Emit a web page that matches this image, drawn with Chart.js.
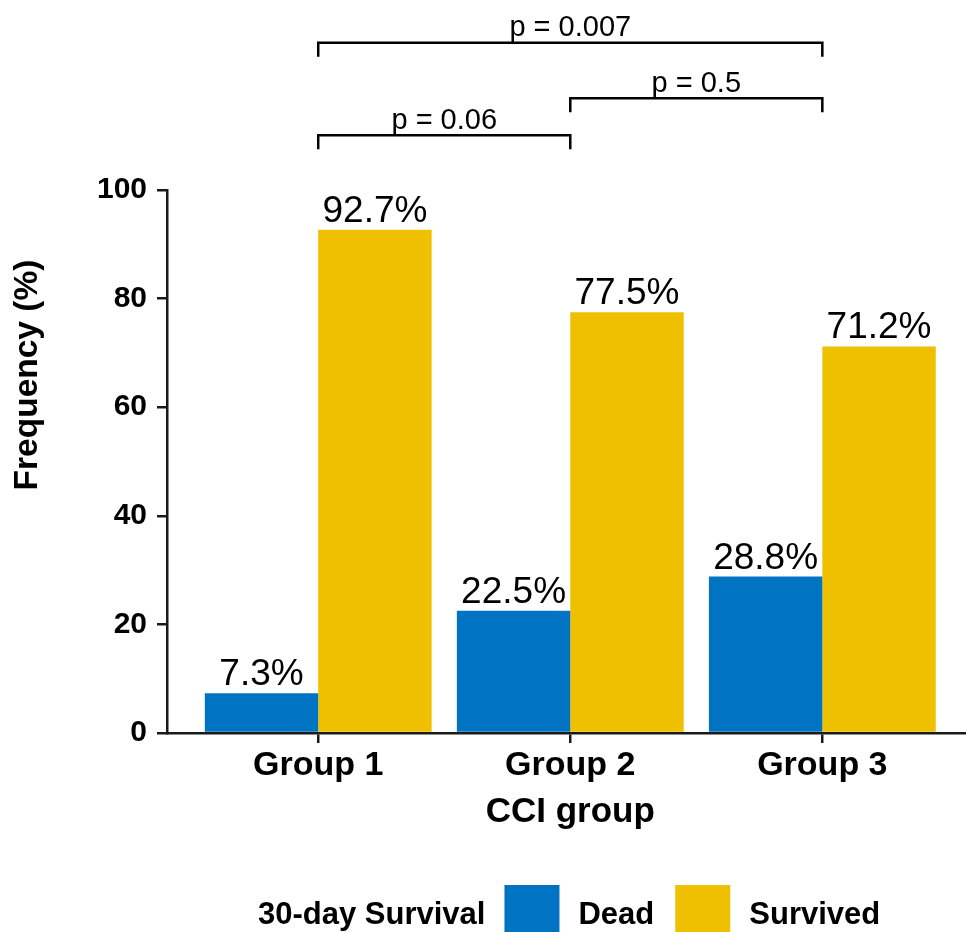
<!DOCTYPE html>
<html>
<head>
<meta charset="utf-8">
<script src="https://cdn.jsdelivr.net/npm/chart.js@4"></script>
<style>
  html, body { margin: 0; padding: 0; background: #ffffff; }
  canvas { display: block; }
</style>
</head>
<body>
<canvas id="chart" width="966" height="932"></canvas>
<script>
// CCI groups and their positions on the x scale
const groups = ['Group 1', 'Group 2', 'Group 3'];
const groupPos = [1, 2, 3];

// 30-day survival frequencies (%)
const seriesNames = ['Dead', 'Survived'];
const dead = [7.3, 22.5, 28.8];
const survived = [92.7, 77.5, 71.2];

// y axis ticks
const yTicks = [0, 20, 40, 60, 80, 100];

// pairwise comparisons and their p values
const pairs = [[1, 2], [2, 3], [1, 3]];
const pLabels = ['p = 0.06', 'p = 0.5', 'p = 0.007'];

const FONT = '"Liberation Sans", Arial, Helvetica, sans-serif';
const BLUE = '#0073C2';
const YELLOW = '#EFC000';
const AXIS = '#1a1a1a';

const overlay = {
  id: 'overlay',
  afterDatasetsDraw(chart) {
    const ctx = chart.ctx;
    const xs = chart.scales.x;
    const ys = chart.scales.y;
    ctx.save();

    // value labels above bars
    ctx.fillStyle = '#000';
    ctx.font = '37px ' + FONT;
    ctx.textAlign = 'center';
    ctx.textBaseline = 'alphabetic';
    chart.data.datasets.forEach((ds, di) => {
      const meta = chart.getDatasetMeta(di);
      meta.data.forEach((el, i) => {
        ctx.fillText(ds.data[i].y + '%', el.x, el.y - 8);
      });
    });

    // significance brackets (levels in data units above the bars)
    const levels = [110.1, 116.9, 127.1];
    const drop = 14;
    ctx.strokeStyle = '#000';
    ctx.lineWidth = 2.5;
    ctx.lineJoin = 'miter';
    ctx.font = '29px ' + FONT;
    pairs.forEach((p, i) => {
      const x1 = xs.getPixelForValue(p[0]);
      const x2 = xs.getPixelForValue(p[1]);
      const y = ys.getPixelForValue(levels[i]);
      ctx.beginPath();
      ctx.moveTo(x1, y + drop);
      ctx.lineTo(x1, y);
      ctx.lineTo(x2, y);
      ctx.lineTo(x2, y + drop);
      ctx.stroke();
      ctx.fillText(pLabels[i], (x1 + x2) / 2, y - 6.5);
    });

    // y axis title
    ctx.save();
    ctx.translate(37, 375);
    ctx.rotate(-Math.PI / 2);
    ctx.font = 'bold 33.5px ' + FONT;
    ctx.textAlign = 'center';
    ctx.textBaseline = 'alphabetic';
    ctx.fillText('Frequency (%)', 0, 0);
    ctx.restore();

    // x axis title
    ctx.font = 'bold 35px ' + FONT;
    ctx.textAlign = 'center';
    ctx.fillText('CCI group', xs.getPixelForValue(2), 822);

    // legend
    ctx.textAlign = 'left';
    ctx.font = 'bold 31px ' + FONT;
    let lx = 258;
    const base = 924;
    ctx.fillText('30-day Survival', lx, base);
    lx += ctx.measureText('30-day Survival').width + 19;
    const colors = [BLUE, YELLOW];
    seriesNames.forEach((name, i) => {
      ctx.fillStyle = colors[i];
      ctx.fillRect(lx, 885, 55, 50);
      lx += 55 + 19;
      ctx.fillStyle = '#000';
      ctx.fillText(name, lx, base);
      lx += ctx.measureText(name).width + 21;
    });

    ctx.restore();
  }
};

new Chart(document.getElementById('chart').getContext('2d'), {
  type: 'bar',
  data: {
    datasets: [
      {
        label: seriesNames[0],
        data: groupPos.map((x, i) => ({ x: x, y: dead[i] })),
        backgroundColor: BLUE,
        borderWidth: 0
      },
      {
        label: seriesNames[1],
        data: groupPos.map((x, i) => ({ x: x, y: survived[i] })),
        backgroundColor: YELLOW,
        borderWidth: 0
      }
    ]
  },
  options: {
    responsive: false,
    animation: false,
    layout: { padding: { top: 190, right: 0, bottom: 0, left: 0 } },
    datasets: { bar: { categoryPercentage: 0.9, barPercentage: 1.0 } },
    plugins: {
      legend: { display: false },
      tooltip: { enabled: false },
      title: { display: false }
    },
    scales: {
      x: {
        type: 'linear',
        min: 0.4,
        max: 3.57,
        offset: false,
        afterBuildTicks: (s) => { s.ticks = groupPos.map(v => ({ value: v })); },
        afterFit: (s) => { s.height = 199; },
        grid: {
          offset: false,
          drawOnChartArea: false,
          drawTicks: true,
          tickLength: 10,
          lineWidth: 2.5,
          color: AXIS
        },
        border: { display: true, color: AXIS, width: 2.5 },
        ticks: {
          autoSkip: false,
          maxRotation: 0,
          padding: 2,
          color: '#000',
          font: { family: FONT, size: 34, weight: 'bold' },
          callback: (v) => groups[groupPos.indexOf(v)]
        }
      },
      y: {
        min: 0,
        max: 100,
        afterBuildTicks: (s) => { s.ticks = yTicks.map(v => ({ value: v })); },
        afterFit: (s) => { s.width = 167; },
        grid: {
          drawOnChartArea: false,
          drawTicks: true,
          tickLength: 10,
          lineWidth: 2.5,
          color: AXIS
        },
        border: { display: true, color: AXIS, width: 2.5 },
        ticks: {
          padding: 10,
          color: '#000',
          font: { family: FONT, size: 30, weight: 'bold' }
        }
      }
    }
  },
  plugins: [overlay]
});
</script>
</body>
</html>
